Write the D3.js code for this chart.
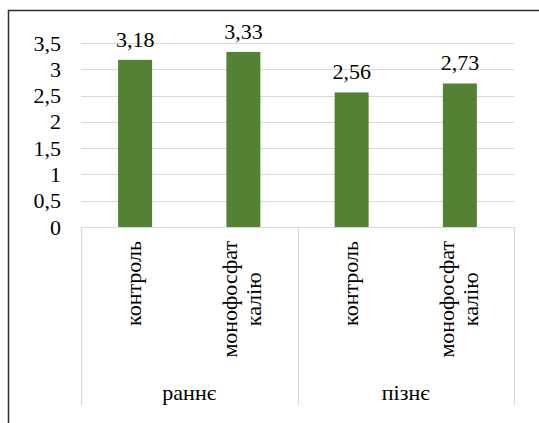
<!DOCTYPE html>
<html>
<head>
<meta charset="utf-8">
<script src="https://cdn.jsdelivr.net/npm/d3@7"></script>
</head>
<body style="margin:0;padding:0;background:#fff;">
<svg id="barviz" width="539" height="423"></svg>
<script>
const groups = ["раннє", "пізнє"];
const categories = ["контроль", "монофосфат калію", "контроль", "монофосфат калію"];
const categoryLines = [["контроль"], ["монофосфат", "калію"], ["контроль"], ["монофосфат", "калію"]];
const categoryGroup = ["раннє", "раннє", "пізнє", "пізнє"];
const values = [3.18, 3.33, 2.56, 2.73];
const valueLabels = ["3,18", "3,33", "2,56", "2,73"];
const yTicks = [0, 0.5, 1, 1.5, 2, 2.5, 3, 3.5];
const yTickLabels = ["0", "0,5", "1", "1,5", "2", "2,5", "3", "3,5"];

(function () {
const svg = d3.select("#barviz");
const FONT = '"Liberation Serif"';
const pLeft = 81, pRight = 514, pTop = 43, pBottom = 227;
const FS = 22;
function txt(sel) {
  return sel.attr("font-size", FS).style("font-family", FONT, "important").style("font-size", FS + "px", "important");
}

// outer frame
svg.append("rect")
  .attr("x", 8.5).attr("y", 10.5).attr("width", 560).attr("height", 440)
  .attr("fill", "none").attr("stroke", "#303030").attr("stroke-width", 1.5);

const idx = categories.map((d, i) => i);
const x = d3.scaleBand().domain(idx).range([pLeft, pRight]).paddingInner(0.686).paddingOuter(0.343);
const xOuter = d3.scaleBand().domain(idx).range([pLeft, pRight]);
const y = d3.scaleLinear().domain([0, 3.5]).range([pBottom, pTop]);

// gridlines
svg.append("g").selectAll("line").data(yTicks.filter(t => t > 0)).join("line")
  .attr("x1", pLeft).attr("x2", pRight)
  .attr("y1", d => Math.round(y(d)) + 0.5).attr("y2", d => Math.round(y(d)) + 0.5)
  .attr("stroke", "#d9d9d9").attr("stroke-width", 1.2);

// y tick labels
txt(svg.append("g").selectAll("text").data(yTicks).join("text")
  .attr("x", 61).attr("y", d => y(d) + 7.5)
  .attr("text-anchor", "end"))
  .text((d, i) => yTickLabels[i]);

// bars
svg.append("g").selectAll("rect").data(values).join("rect")
  .attr("x", (d, i) => x(i)).attr("width", x.bandwidth())
  .attr("y", d => y(d)).attr("height", d => y(0) - y(d))
  .attr("fill", "#548235");

// value labels
txt(svg.append("g").selectAll("text").data(values).join("text")
  .attr("x", (d, i) => x(i) + x.bandwidth() / 2)
  .attr("y", d => y(d) - 13)
  .attr("text-anchor", "middle"))
  .text((d, i) => valueLabels[i]);

// axis box
const axisG = svg.append("g").attr("stroke", "#d9d9d9").attr("stroke-width", 1.2);
axisG.append("line").attr("x1", pLeft).attr("x2", pRight).attr("y1", pBottom + 0.5).attr("y2", pBottom + 0.5);
const groupEdges = [pLeft];
groups.forEach(g => {
  const last = d3.max(idx.filter(i => categoryGroup[i] === g));
  groupEdges.push(xOuter(last) + xOuter.bandwidth());
});
axisG.selectAll("line.sep").data(groupEdges).join("line").attr("class", "sep")
  .attr("x1", d => Math.round(d) + 0.5).attr("x2", d => Math.round(d) + 0.5)
  .attr("y1", pBottom).attr("y2", 405);

// category labels (rotated)
const labelTop = 241;
const lineH = 24;
idx.forEach(i => {
  const cx = xOuter(i) + xOuter.bandwidth() / 2;
  const lines = categoryLines[i];
  const g = svg.append("g");
  const texts = lines.map(t => txt(g.append("text")).attr("text-anchor", "middle").text(t));
  const maxLen = d3.max(texts, t => t.node().getComputedTextLength());
  const cy = labelTop + maxLen / 2;
  const n = lines.length;
  texts.forEach((t, k) => {
    const base = cx + 6 + (k - (n - 1) / 2) * lineH;
    t.attr("transform", `translate(${base},${cy}) rotate(-90)`);
  });
});

// group labels
groups.forEach(g => {
  const ids = idx.filter(i => categoryGroup[i] === g);
  const x0 = xOuter(ids[0]), x1 = xOuter(ids[ids.length - 1]) + xOuter.bandwidth();
  txt(svg.append("text").attr("x", (x0 + x1) / 2).attr("y", 400)
    .attr("text-anchor", "middle")).text(g);
});
})();
</script>
</body>
</html>
